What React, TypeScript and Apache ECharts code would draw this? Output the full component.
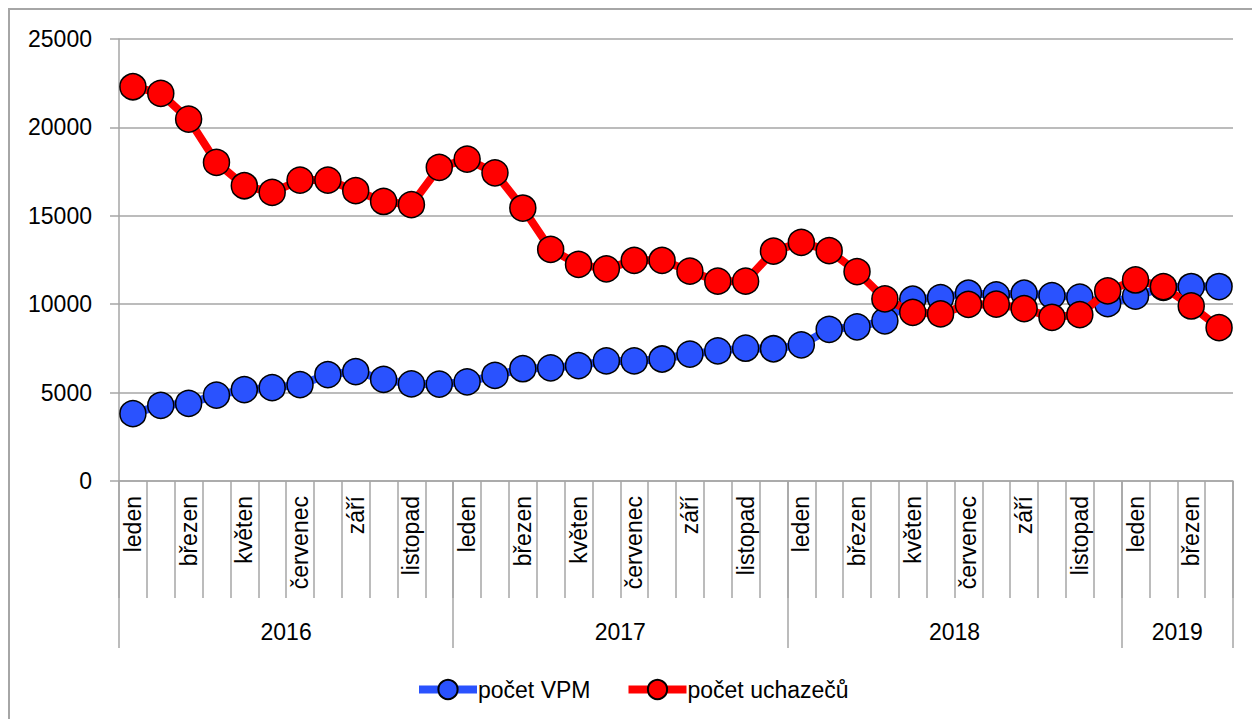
import React, { useEffect, useRef } from "react";
import * as echarts from "echarts";

const monthNames = ["leden", "únor", "březen", "duben", "květen", "červen", "červenec", "srpen", "září", "říjen", "listopad", "prosinec"];
const years = ["2016", "2017", "2018", "2019"];
const monthsPerYear = [12, 12, 12, 4];

const categories: string[] = [];
monthsPerYear.forEach((n) => {
  for (let m = 0; m < n; m++) categories.push(monthNames[m]);
});

const pocetVPM = [3810, 4280, 4390, 4860, 5170, 5280, 5450, 6020, 6190, 5750, 5490, 5480,
  5610, 5970, 6350, 6400, 6530, 6790, 6790, 6900, 7180, 7360, 7510, 7480,
  7700, 8580, 8720, 9060, 10280, 10370, 10620, 10530, 10620, 10490, 10400, 10030,
  10460, 10950, 11000, 11000];
const pocetUchazecu = [22300, 21920, 20470, 18020, 16700, 16320, 17020, 17020, 16420, 15810, 15630, 17740,
  18210, 17430, 15440, 13100, 12250, 12000, 12480, 12480, 11870, 11300, 11300, 13000,
  13500, 13030, 11840, 10300, 9540, 9450, 9990, 10000, 9750, 9260, 9410, 10750,
  11370, 10990, 9900, 8670];

const yTicks = { min: 0, max: 25000, interval: 5000 };

// year boundaries and centers on a 0..N month scale
const yearBounds: number[] = [0];
monthsPerYear.forEach((n) => yearBounds.push(yearBounds[yearBounds.length - 1] + n));
const yearCenters = monthsPerYear.map((n, i) => yearBounds[i] + n / 2);

const FONT = "Liberation Sans, Arial, sans-serif";
const GREY = "#A6A6A6";

export default function App() {
  const ref = useRef<HTMLDivElement>(null);
  useEffect(() => {
    if (!ref.current) return;
    const chart = echarts.init(ref.current, null, { renderer: "svg" });
    chart.setOption({
      animation: false,
      backgroundColor: "#fff",
      textStyle: { fontFamily: FONT },
      graphic: [
        {
          type: "rect",
          shape: { x: 9, y: 9, width: 1400, height: 900 },
          style: { fill: "none", stroke: GREY, lineWidth: 2 },
          silent: true,
          z: -10,
        },
      ],
      grid: { left: 119, right: 19, top: 39, bottom: 238, containLabel: false },
      legend: {
        left: 410,
        top: 673,
        itemWidth: 58,
        itemHeight: 24,
        itemGap: 34,
        lineStyle: { width: 8 },
        textStyle: { fontSize: 23, color: "#000", fontFamily: FONT, padding: [0, 0, 0, -4] },
        data: ["počet VPM", "počet uchazečů"],
      },
      xAxis: [
        {
          type: "category",
          data: categories,
          boundaryGap: true,
          position: "bottom",
          axisLine: { show: true, lineStyle: { color: GREY, width: 1.5 } },
          axisTick: { show: true, interval: 0, length: 117, lineStyle: { color: GREY, width: 1.5 } },
          axisLabel: {
            interval: 1,
            rotate: 90,
            fontSize: 23,
            color: "#000",
            fontFamily: FONT,
            margin: 15,
          },
          splitLine: { show: false },
        },
        {
          type: "value",
          min: 0,
          max: categories.length,
          position: "bottom",
          axisLine: { show: false },
          axisTick: {
            show: true,
            customValues: yearBounds,
            length: 167,
            lineStyle: { color: GREY, width: 1.5 },
          },
          axisLabel: {
            show: true,
            customValues: yearCenters,
            formatter: (v: number) => {
              const i = yearCenters.findIndex((c) => Math.abs(c - v) < 0.01);
              return i >= 0 ? years[i] : "";
            },
            fontSize: 23,
            color: "#000",
            fontFamily: FONT,
            margin: 139,
          },
          splitLine: { show: false },
        },
      ],
      yAxis: {
        type: "value",
        min: yTicks.min,
        max: yTicks.max,
        interval: yTicks.interval,
        axisLine: { show: true, lineStyle: { color: GREY, width: 1.5 } },
        axisTick: { show: true, length: 9, lineStyle: { color: GREY, width: 1.5 } },
        axisLabel: {
          fontSize: 23,
          color: "#000",
          fontFamily: FONT,
          margin: 27,
          formatter: (v: number) => String(v),
        },
        splitLine: { show: true, lineStyle: { color: GREY, width: 1.5 } },
      },
      series: [
        {
          name: "počet VPM",
          type: "line",
          xAxisIndex: 0,
          data: pocetVPM,
          symbol: "circle",
          symbolSize: 26,
          showAllSymbol: true,
          lineStyle: { color: "#2A52FE", width: 8 },
          itemStyle: { color: "#2A52FE", borderColor: "#000", borderWidth: 1.5 },
          z: 2,
        },
        {
          name: "počet uchazečů",
          type: "line",
          xAxisIndex: 0,
          data: pocetUchazecu,
          symbol: "circle",
          symbolSize: 26,
          showAllSymbol: true,
          lineStyle: { color: "#FF0000", width: 8 },
          itemStyle: { color: "#FF0000", borderColor: "#000", borderWidth: 1.5 },
          z: 3,
        },
      ],
    });
    return () => chart.dispose();
  }, []);
  return (
    <div
      ref={ref}
      style={{ position: "absolute", left: 0, top: 0, width: 1252, height: 719 }}
    />
  );
}
